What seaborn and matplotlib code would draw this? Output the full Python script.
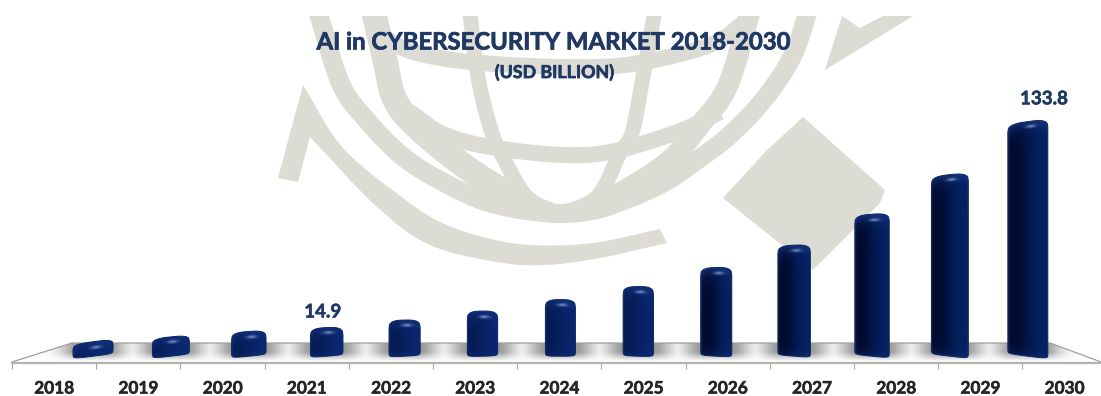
import numpy as np
import pandas as pd
import matplotlib
matplotlib.use("Agg")
import matplotlib.pyplot as plt
import matplotlib.patheffects as pe
from matplotlib.colors import to_rgb
from matplotlib.patches import Polygon, PathPatch, Rectangle
from matplotlib.path import Path
import seaborn as sns

years = ["2018", "2019", "2020", "2021", "2022", "2023", "2024",
         "2025", "2026", "2027", "2028", "2029", "2030"]
market_usd_bn = [8.0, 10.3, 13.0, 14.9, 19.0, 24.0, 30.5,
                 38.0, 49.0, 62.0, 80.0, 103.0, 133.8]
labelled_years = ["2021", "2030"]
label_offsets = {"2021": (-4, 15), "2030": (16, 20)}
title_text = "AI in CYBERSECURITY MARKET 2018-2030"
subtitle_text = "(USD BILLION)"

W, H = 1101, 396
PX_PER_USD = 1.75
PX_PER_CAT = 77.9
BASE_PX = 353.0
FIRST_BAR_PX = 93.0
NAVY = "#1f3864"
WATERMARK = "#dcdcd4"

sns.set_style("white")
plt.rcParams["font.family"] = ["Lato", "DejaVu Sans"]

fig = plt.figure(figsize=(W / 100, H / 100), dpi=100, facecolor="white")

# Backdrop in pixel coordinates: emblem and floor of the 3-D plot
bg = fig.add_axes([0, 0, 1, 1], zorder=0)
bg.set_xlim(0, W)
bg.set_ylim(H, 0)
bg.axis("off")


def smooth(points, n=24):
    """Catmull-Rom curve through the given points."""
    p = np.asarray(points, float)
    p = np.vstack([2 * p[0] - p[1], p, 2 * p[-1] - p[-2]])
    out = []
    for a, b, c, d in zip(p[:-3], p[1:-2], p[2:-1], p[3:]):
        t = np.linspace(0, 1, n, endpoint=False)[:, None]
        out.append(0.5 * (2 * b + (c - a) * t + (2 * a - 5 * b + 4 * c - d) * t ** 2
                          + (3 * b - a - 3 * c + d) * t ** 3))
    out.append(p[-2][None, :])
    return np.vstack(out)


emblem_clip = Rectangle((0, 16), W, 300, transform=bg.transData)

# Curved strokes of the globe: ring, meridians and parallels
strokes = [
    ([(316, 5), (340, 82), (364, 117), (402, 156), (443, 182), (490, 203), (548, 213),
      (590, 211), (625, 200), (665, 182), (700, 158), (730, 135),
      (765, 98), (793, 55), (810, 5)], 19),
    ([(372, 5), (385, 60), (395, 100), (420, 130), (470, 170), (530, 207)], 25),
    ([(752, 5), (728, 85), (700, 125), (670, 160), (625, 190), (585, 209)], 21),
    ([(469, 5), (478, 77), (491, 130), (503, 157), (527, 197), (560, 214)], 15),
    ([(656, 5), (643, 77), (632, 133), (620, 153), (597, 197), (560, 214)], 15),
    ([(410, 112), (443, 134), (490, 147), (563, 155), (615, 151), (680, 131), (720, 112)], 16),
    ([(385, 38), (413, 52), (470, 62), (563, 67), (633, 64), (710, 45), (745, 22)], 16),
]
for pts, width_px in strokes:
    curve = smooth(pts)
    line, = bg.plot(curve[:, 0], curve[:, 1], color=WATERMARK, lw=width_px * 0.72,
                    solid_capstyle="butt", zorder=1)
    line.set_clip_path(emblem_clip)

# Swoosh under the globe with its pointed left end
swoosh_upper = smooth([(303, 85), (343, 148), (403, 198), (440, 222), (483, 237),
                       (530, 245), (593, 243), (660, 229)])
swoosh_lower = smooth([(667, 243), (600, 258), (545, 265), (497, 262), (430, 245),
                       (377, 207), (310, 137)])
swoosh = np.vstack([swoosh_upper, swoosh_lower, [(298, 182), (278, 178)]])
bg.add_patch(Polygon(swoosh, closed=True, fc=WATERMARK, ec="none", zorder=1))

# Corner piece and diamond of the emblem
bg.add_patch(Polygon([(842, 16), (860, 28), (883, 16), (913, 16), (825, 70)],
                     closed=True, fc=WATERMARK, ec="none", zorder=1))
bg.add_patch(Polygon([(803, 117), (885, 190), (880, 203), (813, 270), (723, 198), (767, 150)],
                     closed=True, fc=WATERMARK, ec="none", zorder=1))

# Floor with soft shadows gathered around each column
fx = np.arange(0, W, 1.0)
fy = np.arange(340, 365, 0.5)
shade = np.zeros(fx.size)
for i in range(len(years)):
    cx = FIRST_BAR_PX + PX_PER_CAT * i
    gap = np.clip(np.abs(fx - cx) - 14, 0, None)
    shade = np.maximum(shade, np.exp(-(gap / 19.0) ** 2))
depth = np.clip((361 - fy) / 9.0, 0, 1)[:, None]
floor_grey = 1 - 0.4 * shade[None, :] * depth
floor_img = bg.imshow(floor_grey, extent=(0, W, 365, 340), cmap="gray", vmin=0, vmax=1,
                      aspect="auto", zorder=2)
floor_pts = [(12, 362), (72, 343), (1050, 343), (1101, 362)]
floor_img.set_clip_path(Path(floor_pts + [floor_pts[0]]), bg.transData)
bg.plot([72, 1050, 1101], [343, 343, 362], color="#a0a098", lw=0.9, zorder=3)
bg.plot([12, 72], [362, 343], color="#a0a098", lw=0.9, zorder=3)
bg.set_xlim(0, W)
bg.set_ylim(H, 0)

# Front edge of the floor carries the category axis
axis_ax = fig.add_axes([12 / W, (H - 362.5) / H, 84.2 * 13 / W, 0.001], zorder=1)
axis_ax.patch.set_alpha(0)
axis_ax.set_xlim(0, 13)
axis_ax.set_ylim(0, 1)
axis_ax.set_yticks([])
for side in ("top", "left", "right"):
    axis_ax.spines[side].set_visible(False)
axis_ax.spines["bottom"].set_color("#b4b4ae")
axis_ax.spines["bottom"].set_linewidth(1.6)
axis_ax.set_xticks(np.arange(14))
axis_ax.set_xticklabels([])
axis_ax.tick_params(axis="x", which="major", bottom=True, length=4.5, width=0.8, color="#a8a8a0")
axis_ax.set_xticks(np.arange(13) + 0.5, minor=True)
axis_ax.set_xticklabels(years, minor=True, fontsize=12.4, fontweight="bold", color="#262626")
axis_ax.tick_params(axis="x", which="minor", bottom=False, length=0, pad=13)
for tick_label in axis_ax.get_xticklabels(minor=True):
    tick_label.set_path_effects([pe.withStroke(linewidth=0.4, foreground="#262626")])

# Columns share one data axes, whose scale puts zero on the floor
ax = fig.add_axes([0, 0, 1, 1], zorder=2)
ax.patch.set_alpha(0)
df = pd.DataFrame({"year": years, "value": market_usd_bn})
sns.barplot(data=df, x="year", y="value", ax=ax, width=0.42, color="#0a2a6e",
            saturation=1, legend=False)
xlim = (-FIRST_BAR_PX / PX_PER_CAT, (W - FIRST_BAR_PX) / PX_PER_CAT)
ylim = (-(H - BASE_PX) / PX_PER_USD, BASE_PX / PX_PER_USD)

stops_u = [-1.0, -0.9, -0.4, 0.2, 0.7, 0.93, 1.0]
stops_c = np.array([to_rgb(c) for c in
                    ["#10245a", "#020b2c", "#010c34", "#031a52", "#062062", "#07205c", "#12296a"]])
bar_patches = list(ax.patches)
for i, patch in enumerate(bar_patches):
    cx = patch.get_x() + patch.get_width() / 2
    value = patch.get_height()
    patch.set_facecolor("none")
    patch.set_edgecolor("none")
    t = (i - 6) / 6
    half_px = (patch.get_width() / 2 * PX_PER_CAT) * (30 + 10 * t ** 2) / 32.7
    top_px = BASE_PX - value * PX_PER_USD
    h_px = BASE_PX - top_px
    corner = min(8.0, 0.25 * h_px + 1.5)
    slant = 5.5 * t ** 2

    def top_edge(u):
        return top_px + corner * (1 - (1 - np.abs(u) ** 3) ** (1 / 3)) + slant * (1 - u) / 2

    def bottom_edge(u):
        return BASE_PX + 3.2 * (1 - np.abs(u) ** 4) ** 0.25 + 2.5 * t * u

    us = np.linspace(-1, 1, 61)
    outline_px = np.vstack([np.c_[us * half_px, top_edge(us)],
                            np.c_[us[::-1] * half_px, bottom_edge(us[::-1])]])
    outline = np.c_[cx + outline_px[:, 0] / PX_PER_CAT, (BASE_PX - outline_px[:, 1]) / PX_PER_USD]
    shape = Path(np.vstack([outline, outline[0]]))

    # Cylinder shading: dark left flank, lit cap and a small specular spot
    y_top, y_bot = top_px - 1, BASE_PX + 7
    grid_u = np.linspace(-1, 1, 80)
    grid_y = np.arange(y_top, y_bot, 0.5)
    colour = np.stack([np.interp(grid_u, stops_u, stops_c[:, k]) for k in range(3)], axis=-1)
    rgb = np.repeat(colour[None, :, :], grid_y.size, axis=0)
    uu, yy = np.meshgrid(grid_u, grid_y)
    d_top = yy - top_edge(uu)
    d_bot = bottom_edge(uu) - yy
    cap = np.exp(-np.clip(d_top, 0, None) / 6.0) * 0.85
    foot = np.exp(-np.clip(d_bot, 0, None) / 4.0) * 0.4
    glow = np.array(to_rgb("#163a8c"))
    rgb = rgb * (1 - (cap + foot))[..., None] + glow * (cap + foot)[..., None]
    if h_px < 70:
        rgb = rgb * 0.5 + np.array(to_rgb("#0b2b78")) * 0.5
    spot = np.exp(-(((uu - 0.12) * half_px / 5.0) ** 2 + ((d_top - 5.5) / 1.5) ** 2)) * 0.7
    rgb = rgb * (1 - spot)[..., None] + np.array(to_rgb("#9db4de")) * spot[..., None]

    image = ax.imshow(np.clip(rgb, 0, 1), aspect="auto", origin="upper", zorder=3,
                      extent=(cx - half_px / PX_PER_CAT, cx + half_px / PX_PER_CAT,
                              (BASE_PX - y_bot) / PX_PER_USD, (BASE_PX - y_top) / PX_PER_USD))
    image.set_clip_path(shape, ax.transData)
    ax.add_patch(PathPatch(shape, fc="none", ec="#0c2460", lw=0.7, zorder=4))

    if years[i] in labelled_years:
        dx, dy = label_offsets[years[i]]
        ax.annotate(f"{market_usd_bn[i]}", (cx, value), xytext=(dx, dy), textcoords="offset pixels",
                    ha="center", va="center", fontsize=13.5, fontweight="bold", color=NAVY, zorder=5,
                    path_effects=[pe.withStroke(linewidth=0.4, foreground=NAVY)])

ax.set_xlim(*xlim)
ax.set_ylim(*ylim)
ax.axis("off")

heavy = [pe.withStroke(linewidth=0.5, foreground=NAVY)]
fig.text(553 / W, 1 - 42 / H, title_text, ha="center", va="center",
         fontsize=17.2, fontweight="bold", color=NAVY, path_effects=heavy)
fig.text(554 / W, 1 - 72 / H, subtitle_text, ha="center", va="center",
         fontsize=12.8, fontweight="bold", color=NAVY, path_effects=heavy)

fig.savefig("out.png", dpi=100, facecolor="white")
